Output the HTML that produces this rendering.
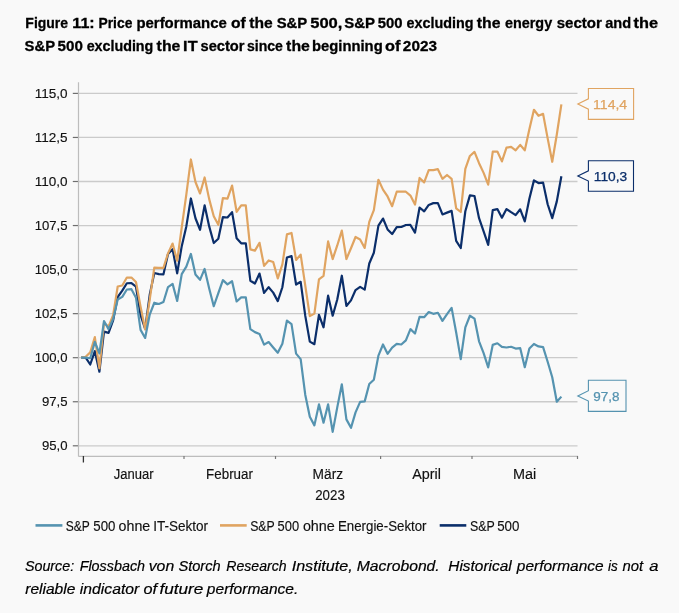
<!DOCTYPE html>
<html><head><meta charset="utf-8"><style>
html,body{margin:0;padding:0;background:#f9f9f9;}
svg{display:block;will-change:transform;}
</style></head><body>
<svg width="679" height="613" viewBox="0 0 679 613" font-family='"Liberation Sans", sans-serif'>
<rect width="679" height="613" fill="#f9f9f9"/>
<text x="25.36" y="27.80" font-size="15" font-weight="bold" fill="#000" stroke="#000" stroke-width="0.3" textLength="42.71" lengthAdjust="spacingAndGlyphs" xml:space="preserve">Figure</text><text x="72.39" y="27.80" font-size="15" font-weight="bold" fill="#000" stroke="#000" stroke-width="0.3" textLength="22.36" lengthAdjust="spacingAndGlyphs" xml:space="preserve">11:</text><text x="98.47" y="27.80" font-size="15" font-weight="bold" fill="#000" stroke="#000" stroke-width="0.3" textLength="33.90" lengthAdjust="spacingAndGlyphs" xml:space="preserve">Price</text><text x="136.42" y="27.80" font-size="15" font-weight="bold" fill="#000" stroke="#000" stroke-width="0.3" textLength="90.40" lengthAdjust="spacingAndGlyphs" xml:space="preserve">performance</text><text x="230.99" y="27.80" font-size="15" font-weight="bold" fill="#000" stroke="#000" stroke-width="0.3" textLength="14.78" lengthAdjust="spacingAndGlyphs" xml:space="preserve">of</text><text x="249.31" y="27.80" font-size="15" font-weight="bold" fill="#000" stroke="#000" stroke-width="0.3" textLength="23.42" lengthAdjust="spacingAndGlyphs" xml:space="preserve">the</text><text x="276.67" y="27.80" font-size="15" font-weight="bold" fill="#000" stroke="#000" stroke-width="0.3" textLength="30.64" lengthAdjust="spacingAndGlyphs" xml:space="preserve">S&amp;P</text><text x="310.19" y="27.80" font-size="15" font-weight="bold" fill="#000" stroke="#000" stroke-width="0.3" textLength="32.23" lengthAdjust="spacingAndGlyphs" xml:space="preserve">500,</text><text x="344.16" y="27.80" font-size="15" font-weight="bold" fill="#000" stroke="#000" stroke-width="0.3" textLength="30.85" lengthAdjust="spacingAndGlyphs" xml:space="preserve">S&amp;P</text><text x="377.64" y="27.80" font-size="15" font-weight="bold" fill="#000" stroke="#000" stroke-width="0.3" textLength="24.78" lengthAdjust="spacingAndGlyphs" xml:space="preserve">500</text><text x="406.54" y="27.80" font-size="15" font-weight="bold" fill="#000" stroke="#000" stroke-width="0.3" textLength="66.91" lengthAdjust="spacingAndGlyphs" xml:space="preserve">excluding</text><text x="476.71" y="27.80" font-size="15" font-weight="bold" fill="#000" stroke="#000" stroke-width="0.3" textLength="23.73" lengthAdjust="spacingAndGlyphs" xml:space="preserve">the</text><text x="504.94" y="27.80" font-size="15" font-weight="bold" fill="#000" stroke="#000" stroke-width="0.3" textLength="47.24" lengthAdjust="spacingAndGlyphs" xml:space="preserve">energy</text><text x="556.67" y="27.80" font-size="15" font-weight="bold" fill="#000" stroke="#000" stroke-width="0.3" textLength="45.16" lengthAdjust="spacingAndGlyphs" xml:space="preserve">sector</text><text x="605.18" y="27.80" font-size="15" font-weight="bold" fill="#000" stroke="#000" stroke-width="0.3" textLength="25.88" lengthAdjust="spacingAndGlyphs" xml:space="preserve">and</text><text x="633.60" y="27.80" font-size="15" font-weight="bold" fill="#000" stroke="#000" stroke-width="0.3" textLength="24.45" lengthAdjust="spacingAndGlyphs" xml:space="preserve">the</text>
<text x="24.57" y="50.50" font-size="15" font-weight="bold" fill="#000" stroke="#000" stroke-width="0.3" textLength="30.44" lengthAdjust="spacingAndGlyphs" xml:space="preserve">S&amp;P</text><text x="57.53" y="50.50" font-size="15" font-weight="bold" fill="#000" stroke="#000" stroke-width="0.3" textLength="25.30" lengthAdjust="spacingAndGlyphs" xml:space="preserve">500</text><text x="86.64" y="50.50" font-size="15" font-weight="bold" fill="#000" stroke="#000" stroke-width="0.3" textLength="66.71" lengthAdjust="spacingAndGlyphs" xml:space="preserve">excluding</text><text x="156.61" y="50.50" font-size="15" font-weight="bold" fill="#000" stroke="#000" stroke-width="0.3" textLength="23.73" lengthAdjust="spacingAndGlyphs" xml:space="preserve">the</text><text x="183.11" y="50.50" font-size="15" font-weight="bold" fill="#000" stroke="#000" stroke-width="0.3" textLength="14.46" lengthAdjust="spacingAndGlyphs" xml:space="preserve">IT</text><text x="200.49" y="50.50" font-size="15" font-weight="bold" fill="#000" stroke="#000" stroke-width="0.3" textLength="44.04" lengthAdjust="spacingAndGlyphs" xml:space="preserve">sector</text><text x="246.91" y="50.50" font-size="15" font-weight="bold" fill="#000" stroke="#000" stroke-width="0.3" textLength="35.97" lengthAdjust="spacingAndGlyphs" xml:space="preserve">since</text><text x="286.11" y="50.50" font-size="15" font-weight="bold" fill="#000" stroke="#000" stroke-width="0.3" textLength="23.73" lengthAdjust="spacingAndGlyphs" xml:space="preserve">the</text><text x="312.02" y="50.50" font-size="15" font-weight="bold" fill="#000" stroke="#000" stroke-width="0.3" textLength="70.67" lengthAdjust="spacingAndGlyphs" xml:space="preserve">beginning</text><text x="385.06" y="50.50" font-size="15" font-weight="bold" fill="#000" stroke="#000" stroke-width="0.3" textLength="15.40" lengthAdjust="spacingAndGlyphs" xml:space="preserve">of</text><text x="402.86" y="50.50" font-size="15" font-weight="bold" fill="#000" stroke="#000" stroke-width="0.3" textLength="34.10" lengthAdjust="spacingAndGlyphs" xml:space="preserve">2023</text>
<line x1="78.5" y1="93.40" x2="577.5" y2="93.40" stroke="#cbcbcb" stroke-width="1.3"/><line x1="72.8" y1="93.40" x2="78.5" y2="93.40" stroke="#6e6e6e" stroke-width="1.2"/><line x1="78.5" y1="137.45" x2="577.5" y2="137.45" stroke="#cbcbcb" stroke-width="1.3"/><line x1="72.8" y1="137.45" x2="78.5" y2="137.45" stroke="#6e6e6e" stroke-width="1.2"/><line x1="78.5" y1="181.50" x2="577.5" y2="181.50" stroke="#cbcbcb" stroke-width="1.3"/><line x1="72.8" y1="181.50" x2="78.5" y2="181.50" stroke="#6e6e6e" stroke-width="1.2"/><line x1="78.5" y1="225.55" x2="577.5" y2="225.55" stroke="#cbcbcb" stroke-width="1.3"/><line x1="72.8" y1="225.55" x2="78.5" y2="225.55" stroke="#6e6e6e" stroke-width="1.2"/><line x1="78.5" y1="269.60" x2="577.5" y2="269.60" stroke="#cbcbcb" stroke-width="1.3"/><line x1="72.8" y1="269.60" x2="78.5" y2="269.60" stroke="#6e6e6e" stroke-width="1.2"/><line x1="78.5" y1="313.65" x2="577.5" y2="313.65" stroke="#cbcbcb" stroke-width="1.3"/><line x1="72.8" y1="313.65" x2="78.5" y2="313.65" stroke="#6e6e6e" stroke-width="1.2"/><line x1="78.5" y1="357.70" x2="577.5" y2="357.70" stroke="#cbcbcb" stroke-width="1.3"/><line x1="72.8" y1="357.70" x2="78.5" y2="357.70" stroke="#6e6e6e" stroke-width="1.2"/><line x1="78.5" y1="401.75" x2="577.5" y2="401.75" stroke="#cbcbcb" stroke-width="1.3"/><line x1="72.8" y1="401.75" x2="78.5" y2="401.75" stroke="#6e6e6e" stroke-width="1.2"/><line x1="78.5" y1="445.80" x2="577.5" y2="445.80" stroke="#cbcbcb" stroke-width="1.3"/><line x1="72.8" y1="445.80" x2="78.5" y2="445.80" stroke="#6e6e6e" stroke-width="1.2"/>
<line x1="78.5" y1="82.3" x2="78.5" y2="456.4" stroke="#bdbdbd" stroke-width="1.2"/>
<line x1="78.5" y1="456.4" x2="578" y2="456.4" stroke="#bdbdbd" stroke-width="1.2"/>
<line x1="184.0" y1="456" x2="184.0" y2="459" stroke="#777" stroke-width="1.2"/><line x1="275.5" y1="456" x2="275.5" y2="459" stroke="#777" stroke-width="1.2"/><line x1="380.6" y1="456" x2="380.6" y2="459" stroke="#777" stroke-width="1.2"/><line x1="472.0" y1="456" x2="472.0" y2="459" stroke="#777" stroke-width="1.2"/><line x1="577.5" y1="456" x2="577.5" y2="459" stroke="#777" stroke-width="1.2"/><line x1="83.4" y1="456" x2="83.4" y2="462.5" stroke="#333" stroke-width="1.3"/>
<text x="34.67" y="98.05" font-size="13.6" fill="#111" stroke="#111" stroke-width="0.15" textLength="32.86" lengthAdjust="spacingAndGlyphs" xml:space="preserve">115,0</text><text x="34.67" y="142.10" font-size="13.6" fill="#111" stroke="#111" stroke-width="0.15" textLength="32.90" lengthAdjust="spacingAndGlyphs" xml:space="preserve">112,5</text><text x="34.67" y="186.15" font-size="13.6" fill="#111" stroke="#111" stroke-width="0.15" textLength="32.86" lengthAdjust="spacingAndGlyphs" xml:space="preserve">110,0</text><text x="34.70" y="230.20" font-size="13.6" fill="#111" stroke="#111" stroke-width="0.15" textLength="32.86" lengthAdjust="spacingAndGlyphs" xml:space="preserve">107,5</text><text x="34.70" y="274.25" font-size="13.6" fill="#111" stroke="#111" stroke-width="0.15" textLength="32.81" lengthAdjust="spacingAndGlyphs" xml:space="preserve">105,0</text><text x="34.70" y="318.30" font-size="13.6" fill="#111" stroke="#111" stroke-width="0.15" textLength="32.86" lengthAdjust="spacingAndGlyphs" xml:space="preserve">102,5</text><text x="34.70" y="362.35" font-size="13.6" fill="#111" stroke="#111" stroke-width="0.15" textLength="32.81" lengthAdjust="spacingAndGlyphs" xml:space="preserve">100,0</text><text x="41.88" y="406.40" font-size="13.6" fill="#111" stroke="#111" stroke-width="0.15" textLength="25.68" lengthAdjust="spacingAndGlyphs" xml:space="preserve">97,5</text><text x="41.88" y="450.45" font-size="13.6" fill="#111" stroke="#111" stroke-width="0.15" textLength="25.64" lengthAdjust="spacingAndGlyphs" xml:space="preserve">95,0</text><text x="113.79" y="478.80" font-size="14.0" fill="#111" stroke="#111" stroke-width="0.15" textLength="39.83" lengthAdjust="spacingAndGlyphs" xml:space="preserve">Januar</text><text x="206.10" y="478.80" font-size="14.0" fill="#111" stroke="#111" stroke-width="0.15" textLength="46.83" lengthAdjust="spacingAndGlyphs" xml:space="preserve">Februar</text><text x="312.57" y="478.80" font-size="14.0" fill="#111" stroke="#111" stroke-width="0.15" textLength="30.52" lengthAdjust="spacingAndGlyphs" xml:space="preserve">März</text><text x="412.17" y="478.80" font-size="14.0" fill="#111" stroke="#111" stroke-width="0.15" textLength="28.70" lengthAdjust="spacingAndGlyphs" xml:space="preserve">April</text><text x="512.92" y="478.80" font-size="14.0" fill="#111" stroke="#111" stroke-width="0.15" textLength="23.26" lengthAdjust="spacingAndGlyphs" xml:space="preserve">Mai</text><text x="315.24" y="500.20" font-size="14.0" fill="#111" stroke="#111" stroke-width="0.15" textLength="29.56" lengthAdjust="spacingAndGlyphs" xml:space="preserve">2023</text>
<g fill="none" stroke-width="2.2" stroke-linejoin="round" stroke-linecap="butt">
<polyline points="81.11,357.70 85.69,357.58 90.26,364.51 94.84,351.16 99.41,371.64 103.98,331.60 108.56,332.85 113.13,320.26 117.71,297.01 122.28,290.67 126.85,283.23 131.43,283.11 136.00,286.72 140.57,315.12 145.15,328.79 149.72,294.78 154.30,272.98 158.87,274.17 163.44,274.38 168.02,253.94 172.59,249.16 177.17,273.30 181.74,246.14 186.31,226.43 190.89,198.47 195.46,218.23 200.04,229.78 204.61,205.33 209.19,226.41 213.76,243.01 218.33,238.76 222.91,217.10 227.48,217.51 232.06,212.10 236.63,238.28 241.20,243.36 245.78,243.24 250.35,280.72 254.93,283.49 259.50,273.58 264.07,292.91 268.65,287.18 273.22,292.62 277.79,301.13 282.37,287.22 286.94,257.51 291.52,256.10 296.09,284.54 300.66,281.82 305.24,315.63 309.81,341.63 314.39,344.20 318.96,314.82 323.53,327.30 328.11,295.70 332.68,315.68 337.26,299.47 341.83,275.72 346.40,305.95 350.98,300.42 355.55,290.04 360.13,286.90 364.70,289.66 369.27,263.49 373.85,252.75 378.42,225.67 383.00,218.54 387.57,229.44 392.14,234.02 396.72,227.15 401.29,227.02 405.87,225.01 410.44,224.96 415.01,232.67 419.59,207.51 424.16,211.34 428.74,204.91 433.31,203.14 437.88,203.18 442.46,214.46 447.03,212.61 451.61,210.86 456.18,240.91 460.75,248.01 465.33,211.26 469.90,195.38 474.48,195.99 479.05,218.16 483.62,231.34 488.20,244.84 492.77,210.08 497.35,209.09 501.92,217.71 506.50,209.06 511.07,212.17 515.64,215.06 520.22,209.30 524.79,221.36 529.37,198.66 533.94,180.39 538.51,183.06 543.09,182.63 547.66,204.24 552.24,218.14 556.81,201.35 561.38,176.19" stroke="#0b2e6a"/>
<polyline points="81.11,357.70 85.69,356.82 90.26,352.41 94.84,337.08 99.41,368.27 103.98,323.34 108.56,326.34 113.13,315.06 117.71,286.52 122.28,285.46 126.85,277.53 131.43,277.53 136.00,281.93 140.57,306.60 145.15,329.51 149.72,299.55 154.30,267.66 158.87,267.84 163.44,267.84 168.02,253.39 172.59,243.52 177.17,260.79 181.74,227.31 186.31,194.72 190.89,159.48 195.46,182.03 200.04,193.48 204.61,177.45 209.19,199.12 213.76,216.21 218.33,224.85 222.91,198.06 227.48,198.59 232.06,185.55 236.63,211.81 241.20,205.29 245.78,205.29 250.35,249.34 254.93,250.57 259.50,242.82 264.07,265.90 268.65,260.44 273.22,262.02 277.79,278.41 282.37,264.31 286.94,234.36 291.52,232.95 296.09,259.91 300.66,254.62 305.24,285.46 309.81,316.12 314.39,313.65 318.96,279.29 323.53,275.94 328.11,241.41 332.68,259.03 337.26,245.46 341.83,230.66 346.40,259.03 350.98,248.28 355.55,237.00 360.13,239.47 364.70,247.93 369.27,221.85 373.85,210.04 378.42,179.74 383.00,189.61 387.57,196.48 392.14,206.17 396.72,191.72 401.29,191.72 405.87,191.72 410.44,195.60 415.01,204.58 419.59,177.98 424.16,182.38 428.74,170.05 433.31,170.05 437.88,169.17 442.46,178.86 447.03,174.98 451.61,178.86 456.18,208.28 460.75,211.98 465.33,168.81 469.90,155.95 474.48,151.90 479.05,163.18 483.62,172.87 488.20,184.67 492.77,151.72 497.35,151.55 501.92,161.41 506.50,147.67 511.07,146.96 515.64,150.31 520.22,144.85 524.79,150.31 529.37,129.17 533.94,109.79 538.51,115.78 543.09,113.84 547.66,138.33 552.24,161.77 556.81,134.45 561.38,104.32" stroke="#e0a461"/>
<polyline points="81.11,357.70 85.69,357.70 90.26,358.23 94.84,341.84 99.41,353.47 103.98,321.05 108.56,329.16 113.13,318.94 117.71,299.55 122.28,296.91 126.85,289.51 131.43,289.16 136.00,297.79 140.57,329.86 145.15,337.97 149.72,314.53 154.30,302.73 158.87,303.96 163.44,302.02 168.02,287.04 172.59,283.87 177.17,300.96 181.74,274.18 186.31,266.60 190.89,253.92 195.46,274.53 200.04,279.82 204.61,268.90 209.19,288.45 213.76,306.25 218.33,293.21 222.91,280.17 227.48,284.40 232.06,281.23 236.63,301.49 241.20,297.44 245.78,297.26 250.35,329.16 254.93,332.15 259.50,333.91 264.07,344.66 268.65,342.02 273.22,347.48 277.79,352.77 282.37,343.78 286.94,320.52 291.52,324.05 296.09,353.65 300.66,359.11 305.24,394.70 309.81,416.73 314.39,425.36 318.96,404.39 323.53,422.72 328.11,404.39 332.68,431.88 337.26,407.39 341.83,384.31 346.40,419.37 350.98,427.83 355.55,412.32 360.13,401.93 364.70,401.40 369.27,383.95 373.85,379.73 378.42,355.59 383.00,344.49 387.57,353.82 392.14,347.66 396.72,343.96 401.29,344.49 405.87,340.43 410.44,329.16 415.01,333.56 419.59,316.82 424.16,317.17 428.74,312.06 433.31,313.83 437.88,312.77 442.46,320.87 447.03,314.18 451.61,307.84 456.18,332.50 460.75,359.11 465.33,327.39 469.90,315.76 474.48,318.58 479.05,341.31 483.62,353.12 488.20,367.39 492.77,344.84 497.35,343.25 501.92,346.95 506.50,347.48 511.07,346.78 515.64,348.54 520.22,348.19 524.79,367.21 529.37,348.54 533.94,343.96 538.51,346.42 543.09,347.13 547.66,361.75 552.24,377.26 556.81,401.75 561.38,396.64" stroke="#5593b0"/>
</g>
<path d="M588.4,88.5 L633.6,88.5 L633.6,119.4 L588.4,119.4 L588.4,109.2 L577.8,104.0 L588.4,98.8 Z" fill="#f9f9f9" stroke="#e0a461" stroke-width="1.1"/><text x="593.03" y="108.90" font-size="12.3" fill="#e0a461" stroke="#e0a461" stroke-width="0.25" textLength="34.18" lengthAdjust="spacingAndGlyphs" xml:space="preserve">114,4</text>
<path d="M588.4,160.7 L633.5,160.7 L633.5,191.2 L588.4,191.2 L588.4,181.1 L577.8,175.9 L588.4,170.8 Z" fill="#f9f9f9" stroke="#0b2e6a" stroke-width="1.1"/><text x="593.75" y="180.60" font-size="12.3" fill="#0b2e6a" stroke="#0b2e6a" stroke-width="0.25" textLength="33.46" lengthAdjust="spacingAndGlyphs" xml:space="preserve">110,3</text>
<path d="M588.4,380.3 L626,380.3 L626,411.4 L588.4,411.4 L588.4,401.1 L577.8,395.9 L588.4,390.7 Z" fill="#f9f9f9" stroke="#5593b0" stroke-width="1.1"/><text x="593.37" y="400.75" font-size="12.3" fill="#5593b0" stroke="#5593b0" stroke-width="0.25" textLength="26.22" lengthAdjust="spacingAndGlyphs" xml:space="preserve">97,8</text>
<line x1="35.5" y1="525.4" x2="62.4" y2="525.4" stroke="#5593b0" stroke-width="2.6"/>

<line x1="220" y1="525.4" x2="246.7" y2="525.4" stroke="#e0a461" stroke-width="2.6"/>

<line x1="439.7" y1="525.4" x2="466.3" y2="525.4" stroke="#0b2e6a" stroke-width="2.6"/>
<text x="65.85" y="530.80" font-size="14.0" fill="#111" stroke="#111" stroke-width="0.15" textLength="23.99" lengthAdjust="spacingAndGlyphs" xml:space="preserve">S&amp;P</text><text x="93.27" y="530.80" font-size="14.0" fill="#111" stroke="#111" stroke-width="0.15" textLength="22.16" lengthAdjust="spacingAndGlyphs" xml:space="preserve">500</text><text x="118.60" y="530.80" font-size="14.0" fill="#111" stroke="#111" stroke-width="0.15" textLength="31.63" lengthAdjust="spacingAndGlyphs" xml:space="preserve">ohne</text><text x="153.16" y="530.80" font-size="14.0" fill="#111" stroke="#111" stroke-width="0.15" textLength="54.87" lengthAdjust="spacingAndGlyphs" xml:space="preserve">IT-Sektor</text><text x="250.14" y="530.80" font-size="14.0" fill="#111" stroke="#111" stroke-width="0.15" textLength="24.51" lengthAdjust="spacingAndGlyphs" xml:space="preserve">S&amp;P</text><text x="277.58" y="530.80" font-size="14.0" fill="#111" stroke="#111" stroke-width="0.15" textLength="21.53" lengthAdjust="spacingAndGlyphs" xml:space="preserve">500</text><text x="302.90" y="530.80" font-size="14.0" fill="#111" stroke="#111" stroke-width="0.15" textLength="31.94" lengthAdjust="spacingAndGlyphs" xml:space="preserve">ohne</text><text x="338.01" y="530.80" font-size="14.0" fill="#111" stroke="#111" stroke-width="0.15" textLength="88.51" lengthAdjust="spacingAndGlyphs" xml:space="preserve">Energie-Sektor</text><text x="469.93" y="530.80" font-size="14.0" fill="#111" stroke="#111" stroke-width="0.15" textLength="24.72" lengthAdjust="spacingAndGlyphs" xml:space="preserve">S&amp;P</text><text x="497.17" y="530.80" font-size="14.0" fill="#111" stroke="#111" stroke-width="0.15" textLength="22.26" lengthAdjust="spacingAndGlyphs" xml:space="preserve">500</text>
<text x="24.90" y="570.80" font-size="14.8" font-style="italic" fill="#000" stroke="#000" stroke-width="0.2" textLength="49.28" lengthAdjust="spacingAndGlyphs" xml:space="preserve">Source:</text><text x="79.66" y="570.80" font-size="14.8" font-style="italic" fill="#000" stroke="#000" stroke-width="0.2" textLength="65.41" lengthAdjust="spacingAndGlyphs" xml:space="preserve">Flossbach</text><text x="148.73" y="570.80" font-size="14.8" font-style="italic" fill="#000" stroke="#000" stroke-width="0.2" textLength="25.49" lengthAdjust="spacingAndGlyphs" xml:space="preserve">von</text><text x="178.39" y="570.80" font-size="14.8" font-style="italic" fill="#000" stroke="#000" stroke-width="0.2" textLength="42.28" lengthAdjust="spacingAndGlyphs" xml:space="preserve">Storch</text><text x="226.26" y="570.80" font-size="14.8" font-style="italic" fill="#000" stroke="#000" stroke-width="0.2" textLength="60.28" lengthAdjust="spacingAndGlyphs" xml:space="preserve">Research</text><text x="291.65" y="570.80" font-size="14.8" font-style="italic" fill="#000" stroke="#000" stroke-width="0.2" textLength="61.12" lengthAdjust="spacingAndGlyphs" xml:space="preserve">Institute,</text><text x="356.81" y="570.80" font-size="14.8" font-style="italic" fill="#000" stroke="#000" stroke-width="0.2" textLength="82.91" lengthAdjust="spacingAndGlyphs" xml:space="preserve">Macrobond.</text><text x="448.32" y="570.80" font-size="14.8" font-style="italic" fill="#000" stroke="#000" stroke-width="0.2" textLength="63.32" lengthAdjust="spacingAndGlyphs" xml:space="preserve">Historical</text><text x="516.89" y="570.80" font-size="14.8" font-style="italic" fill="#000" stroke="#000" stroke-width="0.2" textLength="86.68" lengthAdjust="spacingAndGlyphs" xml:space="preserve">performance</text><text x="607.88" y="570.80" font-size="14.8" font-style="italic" fill="#000" stroke="#000" stroke-width="0.2" textLength="9.80" lengthAdjust="spacingAndGlyphs" xml:space="preserve">is</text><text x="622.55" y="570.80" font-size="14.8" font-style="italic" fill="#000" stroke="#000" stroke-width="0.2" textLength="20.65" lengthAdjust="spacingAndGlyphs" xml:space="preserve">not</text><text x="649.23" y="570.80" font-size="14.8" font-style="italic" fill="#000" stroke="#000" stroke-width="0.2" textLength="9.23" lengthAdjust="spacingAndGlyphs" xml:space="preserve">a</text>
<text x="25.24" y="593.60" font-size="14.8" font-style="italic" fill="#000" stroke="#000" stroke-width="0.2" textLength="50.14" lengthAdjust="spacingAndGlyphs" xml:space="preserve">reliable</text><text x="79.85" y="593.60" font-size="14.8" font-style="italic" fill="#000" stroke="#000" stroke-width="0.2" textLength="59.41" lengthAdjust="spacingAndGlyphs" xml:space="preserve">indicator</text><text x="143.56" y="593.60" font-size="14.8" font-style="italic" fill="#000" stroke="#000" stroke-width="0.2" textLength="13.54" lengthAdjust="spacingAndGlyphs" xml:space="preserve">of</text><text x="159.42" y="593.60" font-size="14.8" font-style="italic" fill="#000" stroke="#000" stroke-width="0.2" textLength="43.92" lengthAdjust="spacingAndGlyphs" xml:space="preserve">future</text><text x="206.89" y="593.60" font-size="14.8" font-style="italic" fill="#000" stroke="#000" stroke-width="0.2" textLength="91.41" lengthAdjust="spacingAndGlyphs" xml:space="preserve">performance.</text>
</svg>
</body></html>
